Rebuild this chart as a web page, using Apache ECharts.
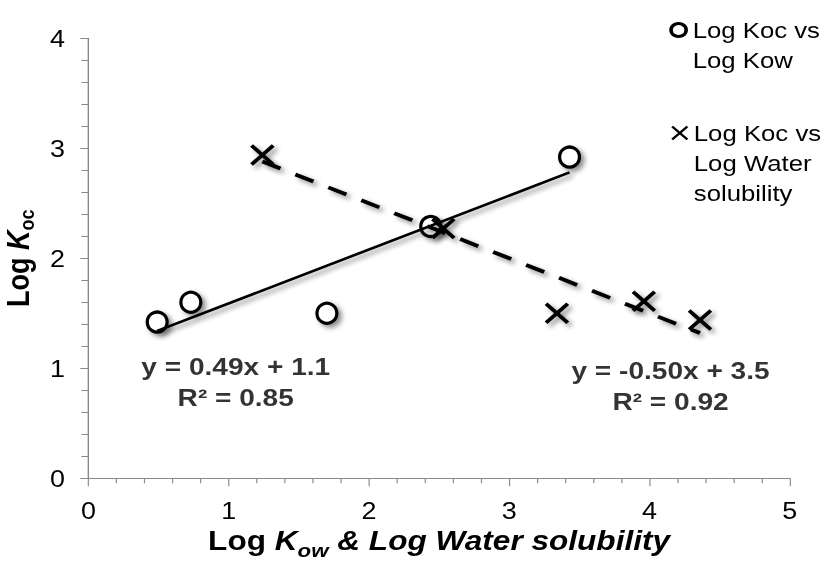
<!DOCTYPE html>
<html>
<head>
<meta charset="utf-8">
<title>Log Koc regressions</title>
<script src="https://cdn.jsdelivr.net/npm/echarts@6/dist/echarts.min.js"></script>
<style>
  html, body { margin: 0; padding: 0; background: #fff; overflow: hidden; }
  #wrap { width: 827px; height: 563px; overflow: hidden; }
  /* chart is laid out narrower and widened horizontally, giving the wide lettering */
  #chart { width: 707px; height: 563px; transform: scaleX(1.17); transform-origin: 0 0; }
</style>
</head>
<body>
<div id="wrap"><div id="chart"></div></div>
<script>
// Log Koc against Log Kow
const kowX = [0.49, 0.73, 1.70, 2.44, 3.43];
const kowY = [1.42, 1.60, 1.50, 2.29, 2.92];
// Log Koc against Log Water solubility
const solX = [1.24, 2.53, 3.34, 3.96, 4.36];
const solY = [2.94, 2.27, 1.50, 1.61, 1.44];

// linear fits shown on the chart
const kowFit = { slope: 0.49, intercept: 1.1, r2: 0.85 };
const solFit = { slope: -0.50, intercept: 3.5, r2: 0.92 };

const seriesNames = ['Log Koc vs Log Kow', 'Log Koc vs Log Water solubility'];
const legendLines = [['Log Koc vs', 'Log Kow'], ['Log Koc vs', 'Log Water', 'solubility']];
const xTickLabels = ['0', '1', '2', '3', '4', '5'];
const yTickLabels = ['0', '1', '2', '3', '4'];

// where each fit equation is written, in data units
const kowEqAnchor = [1.05, 0.87];
const solEqAnchor = [4.15, 0.84];

const FONT = "'Liberation Sans', Arial, Helvetica, sans-serif";
const INK = '#000';
const AXIS_GREY = '#8a8a8a';
const SHADOW = { shadowBlur: 5, shadowColor: 'rgba(0,0,0,0.45)', shadowOffsetX: 3, shadowOffsetY: 3 };
const CROSS = 'path://M0,0L10,10M10,0L0,10';

function fitLine(fit, xs) {
  const lo = Math.min.apply(null, xs), hi = Math.max.apply(null, xs);
  return [[lo, fit.slope * lo + fit.intercept], [hi, fit.slope * hi + fit.intercept]];
}
function fitText(fit) {
  const s = fit.slope.toFixed(2);
  return 'y = ' + s + 'x + ' + fit.intercept.toFixed(1) + '\nR² = ' + fit.r2.toFixed(2);
}
function zip(xs, ys) { return xs.map((x, i) => [x, ys[i]]); }

const chart = echarts.init(document.getElementById('chart'), null, { renderer: 'svg' });

const titleRich = {
  n: { fontFamily: FONT, fontWeight: 'bold', fontSize: 27, lineHeight: 27, verticalAlign: 'top', color: INK },
  i: { fontFamily: FONT, fontWeight: 'bold', fontStyle: 'italic', fontSize: 27, lineHeight: 27, verticalAlign: 'top', color: INK },
  s: { fontFamily: FONT, fontWeight: 'bold', fontStyle: 'italic', fontSize: 19, lineHeight: 19, verticalAlign: 'top', padding: [13, 0, 0, 0], color: INK },
  su: { fontFamily: FONT, fontWeight: 'bold', fontSize: 18, lineHeight: 18, verticalAlign: 'top', padding: [12, 0, 0, 0], color: INK }
};

// legend text: blank lines ahead of the entry keep its first line level with the icon
const legendRich = {
  t: { fontFamily: FONT, fontSize: 22, lineHeight: 30, color: INK },
  g: { fontFamily: FONT, fontSize: 22, lineHeight: 30, color: INK }
};
function legendLabel(name) {
  const lines = legendLines[seriesNames.indexOf(name)];
  const pad = [];
  for (let k = 1; k < lines.length; k++) pad.push('{g| }');
  return pad.concat(lines.map(l => '{t|' + l + '}')).join('\n');
}

function legendEntry(idx, iconStyle, icon, w, h) {
  return {
    data: [{ name: seriesNames[idx], icon: icon, itemStyle: iconStyle }],
    orient: 'vertical',
    padding: 0,
    itemWidth: w,
    itemHeight: h,
    selectedMode: false,
    formatter: legendLabel,
    textStyle: { fontFamily: FONT, fontSize: 22, lineHeight: 30, color: INK, rich: legendRich }
  };
}

const legendA = legendEntry(0, { color: '#fff', borderColor: INK, borderWidth: 3 }, 'circle', 14, 13);
legendA.left = 572; legendA.top = 30 - 45;
const legendB = legendEntry(1, { color: 'none', borderColor: INK, borderWidth: 2.2 }, CROSS, 14, 13);
legendB.left = 572; legendB.top = 133 - 75;

chart.setOption({
  backgroundColor: '#fff',
  animation: false,
  textStyle: { fontFamily: FONT },
  grid: { left: 75.6, right: 32, top: 38.3, bottom: 84.7, containLabel: false, outerBoundsMode: 'none' },
  legend: [legendA, legendB],
  xAxis: {
    type: 'value', min: 0, max: 5, interval: 1,
    name: '{n|Log }{i|K}{s|ow}{i| & Log Water solubility}',
    nameLocation: 'middle', nameGap: 44,
    nameTextStyle: { rich: titleRich },
    axisLine: { show: true, onZero: false, lineStyle: { color: AXIS_GREY, width: 1.2 } },
    axisTick: { show: true, inside: false, length: 8, lineStyle: { color: AXIS_GREY, width: 1 } },
    minorTick: { show: true, splitNumber: 5, length: 5, lineStyle: { color: AXIS_GREY, width: 1 } },
    splitLine: { show: false },
    minorSplitLine: { show: false },
    axisLabel: { margin: 21, fontSize: 23, color: '#000', fontFamily: FONT,
                 formatter: v => xTickLabels[Math.round(v)] }
  },
  yAxis: {
    type: 'value', min: 0, max: 4, interval: 1,
    name: '{n|Log }{i|K}{su|oc}',
    nameLocation: 'middle', nameGap: 36, nameRotate: 90,
    nameTextStyle: { rich: titleRich },
    axisLine: { show: true, onZero: false, lineStyle: { color: AXIS_GREY, width: 1.2 } },
    axisTick: { show: true, inside: false, length: 7, lineStyle: { color: AXIS_GREY, width: 1 } },
    minorTick: { show: true, splitNumber: 5, length: 6, lineStyle: { color: AXIS_GREY, width: 1 } },
    splitLine: { show: false },
    minorSplitLine: { show: false },
    axisLabel: { margin: 20, fontSize: 23, color: '#000', fontFamily: FONT,
                 formatter: v => yTickLabels[Math.round(v)] }
  },
  series: [
    {
      name: seriesNames[0], type: 'scatter', data: zip(kowX, kowY), z: 3,
      symbol: 'circle', symbolSize: [17, 20],
      itemStyle: Object.assign({ color: '#fff', borderColor: INK, borderWidth: 3, opacity: 1 }, SHADOW),
      emphasis: { disabled: true }
    },
    {
      name: seriesNames[1], type: 'scatter', data: zip(solX, solY), z: 3,
      symbol: CROSS, symbolSize: [18.5, 19],
      itemStyle: Object.assign({ color: 'none', borderColor: INK, borderWidth: 3.5, opacity: 1 }, SHADOW),
      emphasis: { disabled: true }
    },
    {
      name: 'kow fit', type: 'line', data: fitLine(kowFit, kowX), z: 4,
      showSymbol: false, symbol: 'none', silent: true,
      lineStyle: Object.assign({ color: INK, width: 2.6, type: 'solid' }, SHADOW)
    },
    {
      name: 'solubility fit', type: 'line', data: fitLine(solFit, solX), z: 4,
      showSymbol: false, symbol: 'none', silent: true,
      lineStyle: Object.assign({ color: INK, width: 3.8, type: [17, 14] }, SHADOW)
    },
    {
      name: 'fit equations', type: 'scatter', silent: true, z: 5,
      symbolSize: 0,
      data: [
        { value: kowEqAnchor, label: { formatter: fitText(kowFit) } },
        { value: solEqAnchor, label: { formatter: fitText(solFit) } }
      ],
      label: {
        show: true, position: 'inside', align: 'center', verticalAlign: 'middle',
        fontFamily: FONT, fontWeight: 'bold', fontSize: 24, lineHeight: 31, color: INK
      }
    }
  ]
});
</script>
</body>
</html>
